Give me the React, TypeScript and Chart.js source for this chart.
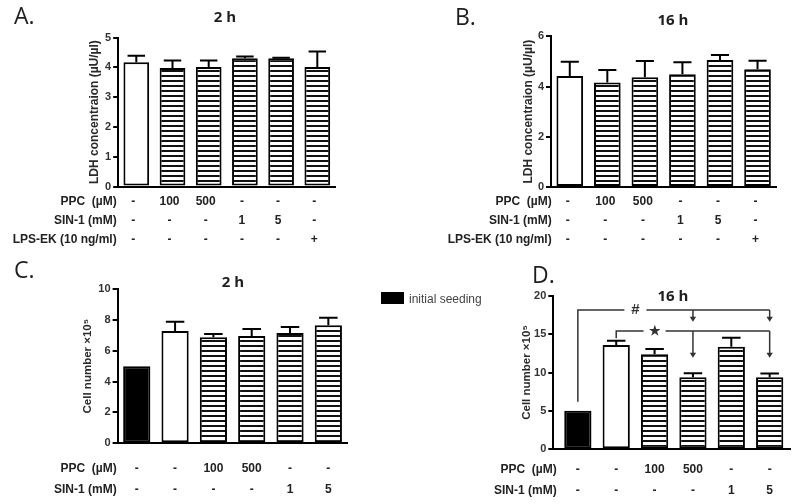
import React, { useEffect, useRef } from 'react';
import { Chart, registerables } from 'chart.js';

Chart.register(...registerables);

// ---------- DATA ----------
const LDH_ROW_HEADS = ['PPC  (µM)', 'SIN-1 (mM)', 'LPS-EK (10 ng/ml)'];
const LDH_PPC = ['-', '100', '500', '-', '-', '-'];
const LDH_SIN1 = ['-', '-', '-', '1', '5', '-'];
const LDH_LPS = ['-', '-', '-', '-', '-', '+'];
const LDH_FILLS = ['open', 'hatch', 'hatch', 'hatch', 'hatch', 'hatch'];

const LDH_2H_MEAN = [4.17, 3.98, 4.01, 4.3, 4.3, 4.01];
const LDH_2H_SEM = [0.22, 0.25, 0.22, 0.06, 0.02, 0.52];
const LDH_2H_TICKS = [0, 1, 2, 3, 4, 5];

const LDH_16H_MEAN = [4.42, 4.16, 4.37, 4.49, 5.06, 4.69];
const LDH_16H_SEM = [0.57, 0.5, 0.65, 0.48, 0.2, 0.34];
const LDH_16H_TICKS = [0, 2, 4, 6];

const CELL_ROW_HEADS = ['PPC  (µM)', 'SIN-1 (mM)'];
const CELL_PPC = ['-', '-', '100', '500', '-', '-'];
const CELL_SIN1 = ['-', '-', '-', '-', '1', '5'];
const CELL_FILLS = ['solid', 'open', 'hatch', 'hatch', 'hatch', 'hatch'];

const CELL_2H_MEAN = [5.0, 7.28, 6.87, 6.95, 7.15, 7.65];
const CELL_2H_SEM = [0, 0.6, 0.21, 0.46, 0.39, 0.49];
const CELL_2H_TICKS = [0, 2, 4, 6, 8, 10];

const CELL_16H_MEAN = [5.03, 13.58, 12.37, 9.37, 13.36, 9.37];
const CELL_16H_SEM = [0, 0.56, 0.69, 0.53, 1.17, 0.5];
const CELL_16H_TICKS = [0, 5, 10, 15, 20];

// significance brackets of panel D (levels in data units, bars by index)
const CELL_16H_BRACKETS = [
  { symbol: '#', from: 0, to: [3, 5], level: 18.14, dropTo: 6.2, arrowTo: 16.6, symbolAt: 1.5 },
  { symbol: '★', from: 1, to: [3, 5], level: 15.4, dropTo: 14.45, arrowTo: 11.93, symbolAt: 2 },
];

const LEGEND_LABEL = 'initial seeding';

// ---------- LAYOUT ----------
const SANS = '"Liberation Sans", Arial, sans-serif';
const HEAD = '"Open Sans", "Liberation Sans", sans-serif';

type Panel = {
  letter: string; title: string; yTitle: string; yTitleSize: number;
  rowHeads: string[]; rows: string[][]; fills: string[];
  mean: number[]; sem: number[]; ticks: number[];
  box: { left: number; top: number; w: number; h: number };
  area: { l: number; r: number; t: number; b: number };
  yTitleX: number;
  letterPos: [number, number]; titlePos: [number, number];
  headRight: number; labelPad: number; lineH: number; labelOffset: number;
  xRange?: [number, number];
  brackets?: typeof CELL_16H_BRACKETS;
};

const PANELS: Panel[] = [
  {
    letter: 'A.', title: '2 h', yTitle: 'LDH concentraion (µU/µl)', yTitleSize: 12,
    rowHeads: LDH_ROW_HEADS, rows: [LDH_PPC, LDH_SIN1, LDH_LPS], fills: LDH_FILLS,
    mean: LDH_2H_MEAN, sem: LDH_2H_SEM, ticks: LDH_2H_TICKS,
    box: { left: 0, top: 0, w: 400, h: 250 },
    area: { l: 118.2, r: 335.4, t: 37.5, b: 186.6 },
    yTitleX: 94.3,
    letterPos: [14, 24], titlePos: [225, 18],
    headRight: 116.7, labelPad: 6, lineH: 18.7, labelOffset: -3,
  },
  {
    letter: 'B.', title: '16 h', yTitle: 'LDH concentraion (µU/µl)', yTitleSize: 12,
    rowHeads: LDH_ROW_HEADS, rows: [LDH_PPC, LDH_SIN1, LDH_LPS], fills: LDH_FILLS,
    mean: LDH_16H_MEAN, sem: LDH_16H_SEM, ticks: LDH_16H_TICKS,
    box: { left: 400, top: 0, w: 400, h: 250 },
    area: { l: 151, r: 376.3, t: 36.3, b: 187 },
    yTitleX: 128.3,
    letterPos: [55, 25], titlePos: [273, 21],
    headRight: 151.7, labelPad: 5.5, lineH: 18.7, labelOffset: -2,
  },
  {
    letter: 'C.', title: '2 h', yTitle: 'Cell number ×10⁵', yTitleSize: 11.5,
    rowHeads: CELL_ROW_HEADS, rows: [CELL_PPC, CELL_SIN1], fills: CELL_FILLS,
    mean: CELL_2H_MEAN, sem: CELL_2H_SEM, ticks: CELL_2H_TICKS,
    box: { left: 0, top: 250, w: 400, h: 254 },
    area: { l: 117.6, r: 347.5, t: 39, b: 193.3 },
    yTitleX: 88.3,
    letterPos: [14, 28], titlePos: [233, 33],
    headRight: 116.7, labelPad: 14.5, lineH: 21, labelOffset: 0,
  },
  {
    letter: 'D.', title: '16 h', yTitle: 'Cell number ×10⁵', yTitleSize: 11.5,
    rowHeads: CELL_ROW_HEADS, rows: [CELL_PPC, CELL_SIN1], fills: CELL_FILLS,
    mean: CELL_16H_MEAN, sem: CELL_16H_SEM, ticks: CELL_16H_TICKS,
    box: { left: 400, top: 250, w: 400, h: 254 },
    area: { l: 153.3, r: 390, t: 45.7, b: 199.3 },
    yTitleX: 126.7,
    letterPos: [132, 33], titlePos: [273, 47],
    headRight: 156.7, labelPad: 10.2, lineH: 21, labelOffset: 0,
    xRange: [-0.64, 5.53],
    brackets: CELL_16H_BRACKETS,
  },
];

function makeHatch(ctx: CanvasRenderingContext2D) {
  const c = document.createElement('canvas');
  c.width = 4; c.height = 5;
  const g = c.getContext('2d')!;
  g.fillStyle = '#fff';
  g.fillRect(0, 0, 4, 5);
  g.fillStyle = '#111';
  g.fillRect(0, 0, 4, 2);
  return ctx.createPattern(c, 'repeat')!;
}

function PanelChart({ cfg }: { cfg: Panel }) {
  const ref = useRef<HTMLCanvasElement>(null);
  useEffect(() => {
    const canvas = ref.current!;
    const ctx = canvas.getContext('2d')!;
    const hatch = makeHatch(ctx);
    const fillFor = (f: string) => (f === 'solid' ? '#000' : f === 'open' ? '#fff' : hatch);
    const W = cfg.box.w, H = cfg.box.h, A = cfg.area;
    const titleHalf = cfg.yTitleSize * 0.6;
    const padLeft = cfg.yTitleX - titleHalf;
    const xAxisH = H - A.b;

    const overlay = {
      id: 'overlay',
      afterDatasetsDraw(chart: any) {
        const c = chart.ctx as CanvasRenderingContext2D;
        const meta = chart.getDatasetMeta(0);
        const ys = chart.scales.y, xs = chart.scales.x;
        c.save();
        c.strokeStyle = '#000';
        c.lineWidth = 2;
        meta.data.forEach((bar: any, i: number) => {
          const s = cfg.sem[i];
          if (!s) return;
          const top = ys.getPixelForValue(cfg.mean[i]);
          const e = ys.getPixelForValue(cfg.mean[i] + s);
          const half = bar.width * 0.34;
          c.beginPath();
          c.moveTo(bar.x, top);
          c.lineTo(bar.x, e);
          c.moveTo(bar.x - half, e);
          c.lineTo(bar.x + half, e);
          c.stroke();
        });
        c.restore();

        if (cfg.brackets) {
          c.save();
          c.strokeStyle = '#333';
          c.fillStyle = '#333';
          c.lineWidth = 1.5;
          cfg.brackets.forEach((b) => {
            const yL = ys.getPixelForValue(b.level);
            const xF = xs.getPixelForValue(b.from);
            const xT = xs.getPixelForValue(b.to[b.to.length - 1]);
            const xS = xs.getPixelForValue(b.symbolAt);
            const gap = 11;
            c.beginPath();
            c.moveTo(xF, ys.getPixelForValue(b.dropTo));
            c.lineTo(xF, yL);
            c.lineTo(xS - gap, yL);
            c.moveTo(xS + gap, yL);
            c.lineTo(xT, yL);
            c.stroke();
            b.to.forEach((t) => {
              const xt = xs.getPixelForValue(t);
              const tip = ys.getPixelForValue(b.arrowTo);
              c.beginPath();
              c.moveTo(xt, yL);
              c.lineTo(xt, tip - 4);
              c.stroke();
              c.beginPath();
              c.moveTo(xt - 3.2, tip - 5);
              c.lineTo(xt + 3.2, tip - 5);
              c.lineTo(xt, tip);
              c.closePath();
              c.fill();
            });
            c.font = `bold ${b.symbol === '#' ? 15 : 13}px ${SANS}`;
            c.textAlign = 'center';
            c.textBaseline = 'middle';
            c.fillText(b.symbol, xS, yL);
          });
          c.restore();
        }
      },
      afterDraw(chart: any) {
        const c = chart.ctx as CanvasRenderingContext2D;
        const xs = chart.scales.x;
        c.save();
        c.fillStyle = '#1e1e1e';
        c.font = `23px ${HEAD}`;
        c.textAlign = 'left';
        c.textBaseline = 'alphabetic';
        c.fillText(cfg.letter, cfg.letterPos[0], cfg.letterPos[1]);
        c.font = `bold 15px ${HEAD}`;
        c.textAlign = 'center';
        c.textBaseline = 'middle';
        c.fillText(cfg.title, cfg.titlePos[0], cfg.titlePos[1]);
        c.font = `bold 12px ${SANS}`;
        c.fillStyle = '#222';
        c.textAlign = 'right';
        cfg.rowHeads.forEach((h, i) => {
          const y = xs.top + cfg.labelPad + cfg.lineH * (i + 0.5);
          c.fillText(h, cfg.headRight, y);
        });
        c.restore();
      },
    };

    const labels = cfg.rows[0].map((_, i) => cfg.rows.map((r) => r[i]));
    const chart = new Chart(canvas, {
      type: 'bar',
      data: {
        labels,
        datasets: [
          {
            data: cfg.mean,
            backgroundColor: cfg.fills.map(fillFor) as any,
            borderColor: '#000',
            borderWidth: 2,
            borderSkipped: false,
            barPercentage: 0.71,
            categoryPercentage: 1,
          },
        ],
      },
      options: {
        responsive: false,
        maintainAspectRatio: false,
        animation: false,
        events: [],
        layout: {
          padding: {
            left: padLeft,
            right: W - A.r,
            top: A.t,
            bottom: 0,
          },
        },
        plugins: {
          legend: { display: false },
          tooltip: { enabled: false },
          title: { display: false },
        },
        scales: {
          x: {
            type: 'category',
            offset: true,
            grid: { display: false, drawTicks: false, tickLength: 0 },
            border: { display: true, color: '#000', width: 2 },
            ticks: {
              color: '#222',
              font: { family: SANS, size: 12, weight: 'bold', lineHeight: cfg.lineH / 12 },
              padding: cfg.labelPad,
              maxRotation: 0,
              minRotation: 0,
              autoSkip: false,
              labelOffset: cfg.labelOffset,
            },
            afterBuildTicks: (s: any) => {
              if (cfg.xRange) {
                s._startValue = cfg.xRange[0];
                s._valueRange = cfg.xRange[1] - cfg.xRange[0];
              }
            },
            afterFit: (s: any) => {
              s.height = xAxisH;
            },
          },
          y: {
            min: 0,
            max: cfg.ticks[cfg.ticks.length - 1],
            afterBuildTicks: (s: any) => {
              s.ticks = cfg.ticks.map((v) => ({ value: v }));
            },
            afterFit: (s: any) => {
              s.width = A.l - padLeft;
            },
            grid: {
              display: true,
              drawOnChartArea: false,
              drawTicks: true,
              tickLength: 5,
              lineWidth: 2,
              color: '#000',
            },
            border: { display: true, color: '#000', width: 2 },
            ticks: {
              color: '#333',
              font: { family: SANS, size: 11, weight: 'bold' },
              padding: 2,
            },
            title: {
              display: true,
              text: cfg.yTitle,
              color: '#2a2a2a',
              font: { family: SANS, size: cfg.yTitleSize, weight: 'bold', lineHeight: 1.2 },
              padding: 0,
            },
          },
        },
      } as any,
      plugins: [overlay],
    });
    return () => chart.destroy();
  }, [cfg]);

  return (
    <canvas
      ref={ref}
      width={cfg.box.w}
      height={cfg.box.h}
      style={{ position: 'absolute', left: cfg.box.left, top: cfg.box.top, width: cfg.box.w, height: cfg.box.h }}
    />
  );
}

export default function App() {
  return (
    <div style={{ position: 'fixed', left: 0, top: 0, width: 800, height: 504, background: '#fff', overflow: 'hidden' }}>
      {PANELS.map((p) => (
        <PanelChart key={p.letter} cfg={p} />
      ))}
      <div style={{ position: 'absolute', left: 381, top: 292, width: 23, height: 12, background: '#000' }} />
      <div
        style={{
          position: 'absolute', left: 409, top: 290, height: 18, lineHeight: '18px',
          fontFamily: SANS, fontSize: 12, color: '#444', whiteSpace: 'nowrap',
        }}
      >
        {LEGEND_LABEL}
      </div>
    </div>
  );
}
